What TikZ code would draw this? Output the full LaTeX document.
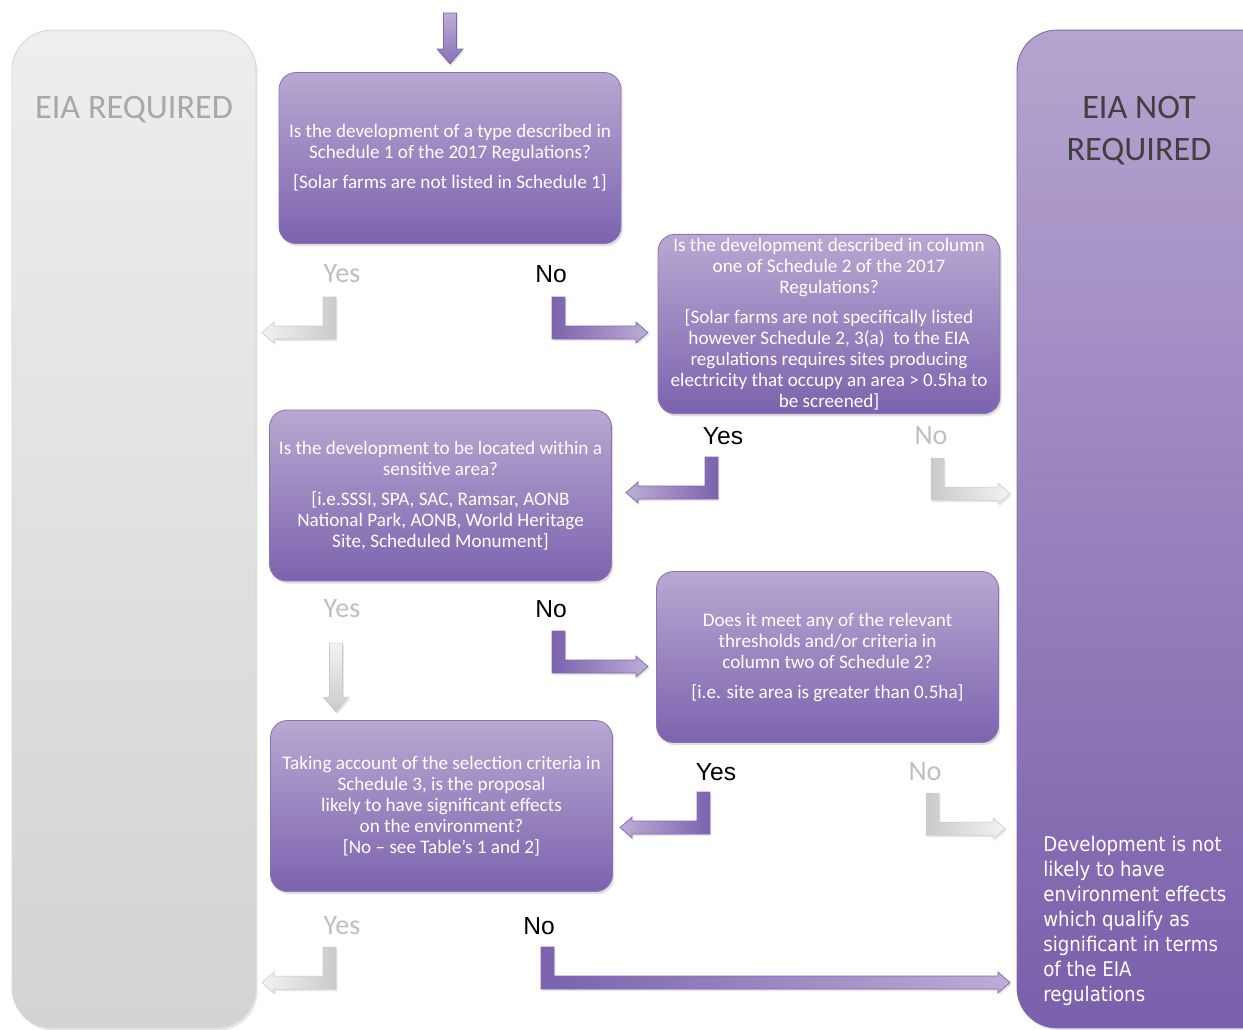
\documentclass[tikz,border=0pt]{standalone}
\usepackage{fontspec}
\setmainfont{Carlito}
\newfontfamily\arialfont{Liberation Sans}
\newfontfamily\tahomafont[FakeStretch=0.9]{DejaVu Sans}
\usetikzlibrary{shadows}

\definecolor{boxtop}{HTML}{B8A8D2}
\definecolor{boxmid}{HTML}{A796C8}
\definecolor{boxbot}{HTML}{7C63AE}
\definecolor{boxedge}{HTML}{8A74B8}
\definecolor{paneltop}{HTML}{B5A4CF}
\definecolor{panelbot}{HTML}{7A5FAB}
\definecolor{greytop}{HTML}{EDEEEE}
\definecolor{greybot}{HTML}{D3D3D3}
\definecolor{greyedge}{HTML}{D6D7D8}
\definecolor{greytext}{HTML}{A6A8AA}
\definecolor{labelgrey}{HTML}{BFBFBF}
\definecolor{arrowdark}{HTML}{7B62AD}
\definecolor{arrowlight}{HTML}{BCAED6}
\definecolor{arrowedge}{HTML}{7F68B2}
\definecolor{greyarrowdark}{HTML}{C9CACB}
\definecolor{greyarrowlight}{HTML}{F3F3F3}

% bent block arrows: style, stem left x, stem top y, tip x
\newcommand{\elbowright}[4]{%
  \shade[#1] (#2,#3) -- ++(13,0) -- ++(0,29) -- (#4-12,#3+29) -- ++(0,-4)
    -- (#4,#3+35.5) -- (#4-12,#3+46) -- ++(0,-4) -- (#2,#3+42) -- cycle;}
\newcommand{\elbowleft}[4]{%
  \shade[#1] (#2,#3) -- ++(13,0) -- ++(0,42) -- (#4+12,#3+42) -- ++(0,4)
    -- (#4,#3+35.5) -- (#4+12,#3+25) -- ++(0,4) -- (#2,#3+29) -- cycle;}
% straight block arrow: style, centre x, top y, tip y
\newcommand{\elbowdown}[4]{%
  \shade[#1] (#2-6.5,#3) -- (#2+6.5,#3) -- (#2+6.5,#4-15) -- (#2+13,#4-15)
    -- (#2,#4) -- (#2-13,#4-15) -- (#2-6.5,#4-15) -- cycle;}

\begin{document}
\begin{tikzpicture}[
    x=0.02cm, y=-0.02cm,
    question/.style={rectangle, draw=boxedge, line width=0.5pt, rounded corners=0.34cm,
        top color=boxtop, middle color=boxmid, bottom color=boxbot,
        minimum width=6.84cm, minimum height=3.42cm, align=center, text=white,
        font=\fontsize{10.9}{12}\selectfont, inner sep=2pt,
        drop shadow={opacity=0.25, shadow xshift=1pt, shadow yshift=-1.5pt}},
    panel/.style={rectangle, rounded corners=0.8cm, line width=0.5pt,
        drop shadow={opacity=0.2, shadow xshift=1pt, shadow yshift=-1.5pt}},
    paneltitle/.style={font=\fontsize{19.5}{23.8}\selectfont, align=center},
    yeslabel/.style={font=\arialfont\fontsize{14}{16}\selectfont, text=black},
    greylabel/.style={font=\fontsize{16}{18}\selectfont, text=labelgrey},
    purplearrow/.style={draw=arrowedge, line width=0.4pt},
    greyarrow/.style={draw=greyarrowdark, line width=0.3pt},
    shadowed/.style={drop shadow={opacity=0.2, shadow xshift=0.8pt, shadow yshift=-1.2pt}}
]
\useasboundingbox (0,0) rectangle (1243,1029);

% ============ SIDE PANELS ============
\node[panel, draw=greyedge, top color=greytop, bottom color=greybot,
      minimum width=4.88cm, minimum height=19.96cm] (required) at (134,529) {};
\node[paneltitle, text=greytext] (reqtitle) at (134,110) {EIA REQUIRED};

\node[panel, draw=arrowedge, top color=paneltop, bottom color=panelbot,
      minimum width=5.46cm, minimum height=19.96cm] (notrequired) at (1153.5,529) {};
\node[paneltitle, text=black!75] (notreqtitle) at (1139,131) {EIA NOT\\REQUIRED};
\node[anchor=west, inner sep=0pt, align=left, text=white,
      font=\tahomafont\fontsize{11.5}{14.2}\selectfont] (outcome) at (1043,921)
    {Development is not\\likely to have\\environment effects\\which qualify as\\significant in terms\\of the EIA\\regulations};

% ============ QUESTIONS ============
\node[question] (schedone) at (450,158) {Is the development of a type described in\\Schedule 1 of the 2017 Regulations?\\[5pt]
    {[Solar farms are not listed in Schedule 1]}};
\node[question] (schedtwo) at (829,324) {Is the development described in column\\one of Schedule 2 of the 2017\\Regulations?\\[5pt]
    {[Solar farms are not specifically listed}\\however Schedule 2, 3(a)\ \ to the EIA\\regulations requires sites producing\\electricity that occupy an area > 0.5ha to\\be screened]};
\node[question] (sensitive) at (440.5,495.5) {Is the development to be located within a\\sensitive area?\\[5pt]
    {[i.e.SSSI, SPA, SAC, Ramsar, AONB}\\National Park, AONB, World Heritage\\Site, Scheduled Monument]};
\node[question] (threshold) at (827.5,657) {Does it meet any of the relevant\\thresholds and/or criteria in\\column two of Schedule 2?\\[5pt]
    {[i.e. site area is greater than 0.5ha]}};
\node[question] (effects) at (441.5,806) {Taking account of the selection criteria in\\Schedule 3, is the proposal\\likely to have significant effects\\on the environment?\\
    {[No -- see Table’s 1 and 2]}};

% ============ ANSWERS ============
\node[greylabel] (yesone) at (342,274) {Yes};
\node[yeslabel] (noone) at (551,274) {No};
\node[yeslabel] (yestwo) at (723,436) {Yes};
\node[greylabel] (notwo) at (931,436) {No};
\node[greylabel] (yesthree) at (342,609) {Yes};
\node[yeslabel] (nothree) at (551,609) {No};
\node[yeslabel] (yesfour) at (716,772) {Yes};
\node[greylabel] (nofour) at (925,772) {No};
\node[greylabel] (yesfive) at (342,926) {Yes};
\node[yeslabel] (nofive) at (539,926) {No};

% ============ BLOCK ARROWS ============
\elbowdown{purplearrow, shadowed, top color=arrowlight, bottom color=arrowdark!80!arrowlight}{450}{13}{64}

\elbowleft{greyarrow, shadowed, left color=greyarrowlight, right color=greyarrowdark}{323}{297}{262}
\elbowright{purplearrow, shadowed, left color=arrowdark, right color=arrowlight}{552}{297}{648}

\elbowleft{purplearrow, shadowed, left color=arrowlight, right color=arrowdark}{705}{457}{626}
\elbowright{greyarrow, shadowed, left color=greyarrowdark, right color=greyarrowlight}{931}{458}{1010}

\elbowdown{greyarrow, shadowed, top color=greyarrowlight, bottom color=greyarrowdark}{336}{643}{712}
\elbowright{purplearrow, shadowed, left color=arrowdark, right color=arrowlight}{552}{631}{648}

\elbowleft{purplearrow, shadowed, left color=arrowlight, right color=arrowdark}{697}{792}{620}
\elbowright{greyarrow, shadowed, left color=greyarrowdark, right color=greyarrowlight}{926}{793}{1005}

\elbowleft{greyarrow, shadowed, left color=greyarrowlight, right color=greyarrowdark}{323}{947}{262}
\elbowright{purplearrow, shadowed, left color=arrowdark, right color=arrowlight}{541}{947}{1010}

\end{tikzpicture}
\end{document}
